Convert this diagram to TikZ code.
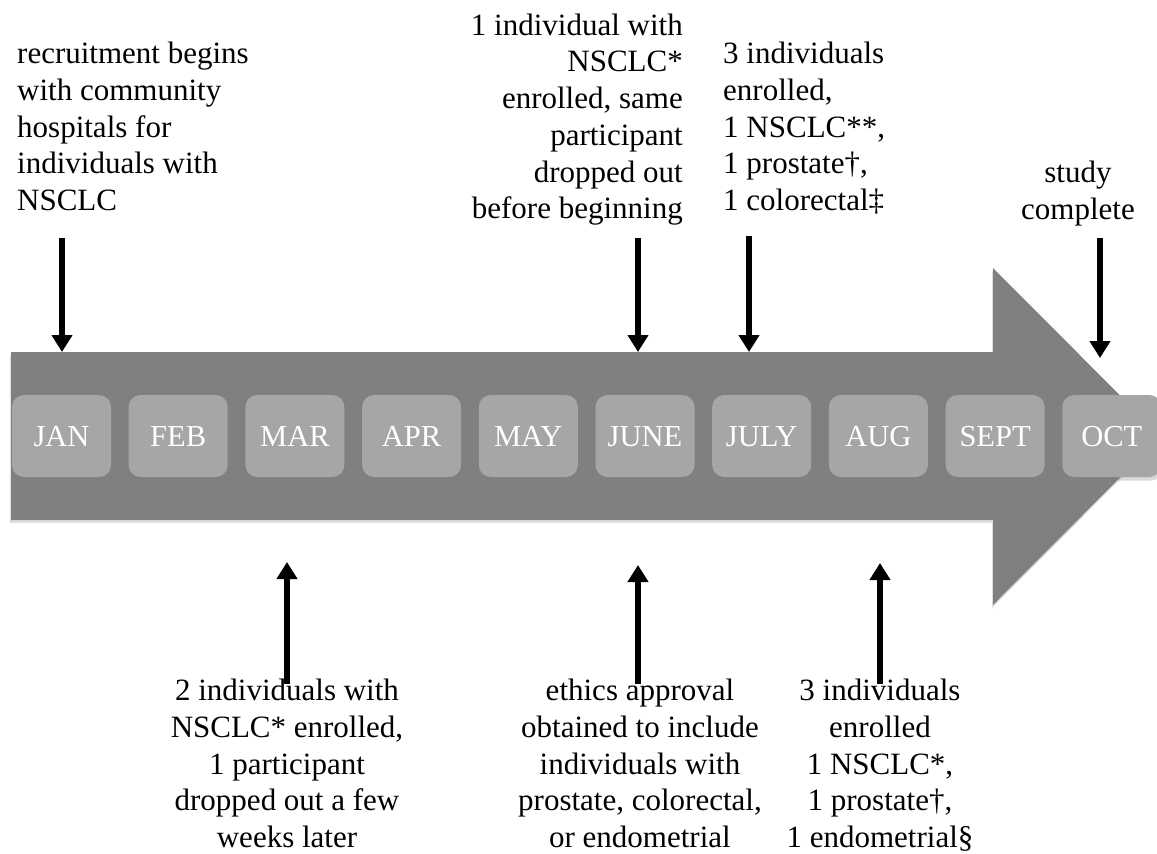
\documentclass[tikz,border=0pt]{standalone}
\usepackage{fontspec}
\setmainfont{Liberation Serif}
\usetikzlibrary{arrows.meta,shadows}

\definecolor{bodygray}{HTML}{808080}
\definecolor{boxgray}{HTML}{A6A6A6}

\begin{document}
\begin{tikzpicture}[
  x = 1pt, y = -1pt,
  month/.style = {fill = boxgray, rounded corners = 12pt, minimum width = 99pt,
                  minimum height = 82pt, inner sep = 0pt, text = white,
                  text height = 21pt, text depth = 0pt,
                  font = \fontsize{30.5}{34}\selectfont,
                  drop shadow = {shadow xshift = 1.5pt, shadow yshift = -3.5pt, opacity = .3}},
  note/.style = {inner sep = 0pt, font = \fontsize{31}{36.7}\selectfont},
  event/.style = {line width = 5.5pt, -{Triangle[width = 20pt, length = 17pt]}},
  ]
  \useasboundingbox (0,0) rectangle (1157,854);
  \clip (0,0) rectangle (1157,854);

  % timeline arrow
  \fill[bodygray, drop shadow = {shadow xshift = -1pt, shadow yshift = -3pt, opacity = .25}]
    (11,352) -- (993,352) -- (993,268) -- (1161,436.5) -- (993,605)
    -- (993,520) -- (11,520) -- cycle;

  % months
  \foreach \m [count = \i] in {JAN, FEB, MAR, APR, MAY, JUNE, JULY, AUG, SEPT, OCT}
    \node[month] (m\i) at ({61.5 + 116.7*(\i - 1)}, 436) {\m};

  % notes above
  \node[note, anchor = north west, align = left] (jannote) at (17,42)
    {recruitment begins\\ with community\\ hospitals for\\ individuals with\\ NSCLC};
  \node[note, anchor = north east, align = right] (junnote) at (683,13.5)
    {1 individual with\\ NSCLC*\\ enrolled, same\\ participant\\ dropped out\\ before beginning};
  \node[note, anchor = north west, align = left] (julnote) at (723,42)
    {3 individuals\\ enrolled,\\ 1 NSCLC**,\\ 1 prostate†,\\ 1 colorectal‡};
  \node[note, anchor = north, align = center] (octnote) at (1078,161)
    {study\\ complete};

  % notes below
  \node[note, anchor = north, align = center] (marnote) at (287,679)
    {2 individuals with\\ NSCLC* enrolled,\\ 1 participant\\ dropped out a few\\ weeks later};
  \node[note, anchor = north, align = center] (ethnote) at (640,679)
    {ethics approval\\ obtained to include\\ individuals with\\ prostate, colorectal,\\ or endometrial};
  \node[note, anchor = north, align = center] (augnote) at (880,679)
    {3 individuals\\ enrolled\\ 1 NSCLC*,\\ 1 prostate†,\\ 1 endometrial§};

  % event arrows
  \coordinate (janfrom) at (62,238);   \coordinate (janto) at (62,352);
  \coordinate (junfrom) at (638,238);  \coordinate (junto) at (638,352);
  \coordinate (julfrom) at (749,236);  \coordinate (julto) at (749,352);
  \coordinate (octfrom) at (1100,238); \coordinate (octto) at (1100,358);
  \coordinate (marfrom) at (287,684);  \coordinate (marto) at (287,562);
  \coordinate (ethfrom) at (638,684);  \coordinate (ethto) at (638,565);
  \coordinate (augfrom) at (880,684);  \coordinate (augto) at (880,563);

  \draw[event] (janfrom) -- (janto);
  \draw[event] (junfrom) -- (junto);
  \draw[event] (julfrom) -- (julto);
  \draw[event] (octfrom) -- (octto);
  \draw[event] (marfrom) -- (marto);
  \draw[event] (ethfrom) -- (ethto);
  \draw[event] (augfrom) -- (augto);
\end{tikzpicture}
\end{document}
